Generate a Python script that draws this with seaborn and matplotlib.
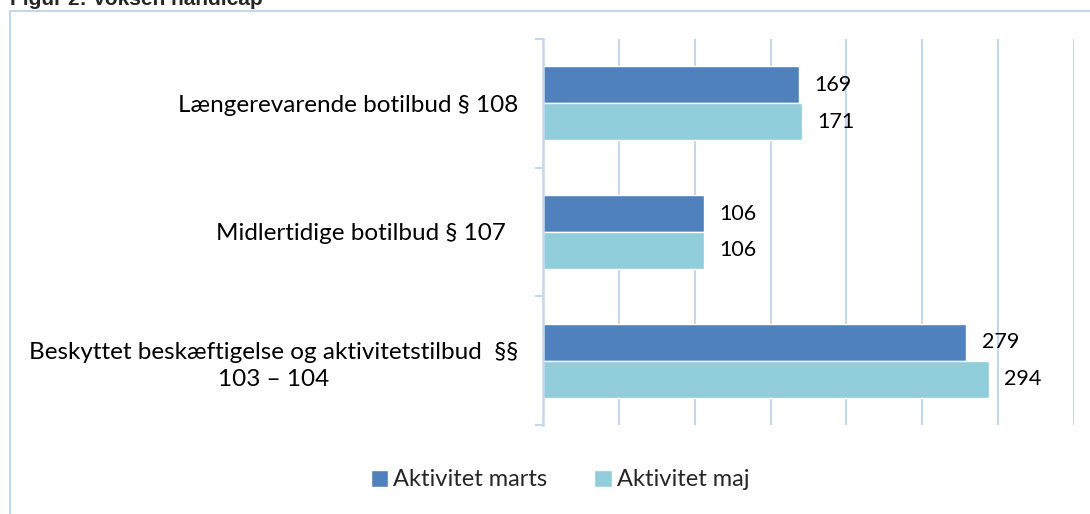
import matplotlib
matplotlib.use('Agg')
import matplotlib.pyplot as plt
import seaborn as sns
import pandas as pd
from matplotlib.patches import Rectangle

categories = ['Længerevarende botilbud § 108',
              'Midlertidige botilbud § 107  ',
              'Beskyttet beskæftigelse og aktivitetstilbud  §§\n103 – 104']
series = ['Aktivitet marts', 'Aktivitet maj']
marts = [169, 106, 279]
maj = [171, 106, 294]
xticks = list(range(0, 351, 50))

df = pd.DataFrame({'kategori': categories * 2,
                   'serie': [series[0]] * 3 + [series[1]] * 3,
                   'antal': marts + maj})

grid = '#c5d7ee'
sns.set_theme(style='white')
plt.rcParams['font.family'] = ['Lato', 'DejaVu Sans']

fig = plt.figure(figsize=(10.9, 5.14), dpi=100)
ax = fig.add_axes([543 / 1090, 89 / 514, 531 / 1090, 386 / 514])
sns.barplot(data=df, y='kategori', x='antal', hue='serie', orient='h',
            palette=['#4f81bd', '#92cddc'], width=0.574, saturation=1, ax=ax)

for c in ax.containers:
    ax.bar_label(c, padding=11, fontsize=15.5, color='black')

ax.set_xlim(0, 350)
ax.set_ylim(2.5, -0.5)
ax.set_xticks(xticks)
ax.set_xticklabels([])
ax.set_xlabel('')
ax.set_ylabel('')
ax.grid(axis='x', color=grid, lw=1.5)
ax.set_axisbelow(True)
for s in ['top', 'right', 'bottom']:
    ax.spines[s].set_visible(False)
ax.spines['left'].set_color(grid)
ax.spines['left'].set_linewidth(1.8)

ax.tick_params(axis='x', length=0)
ax.tick_params(axis='y', which='major', length=0, pad=18, labelsize=17.5, labelcolor='black')
ax.set_yticks([-0.5, 0.5, 1.5, 2.5], minor=True)
ax.tick_params(axis='y', which='minor', left=True, length=6, width=1.5, color=grid)
for lbl in ax.get_yticklabels():
    lbl.set_multialignment('center')
    lbl.set_linespacing(1.4)

handles, labels = ax.get_legend_handles_labels()
ax.get_legend().remove()
fig.legend(handles, labels, loc='center', bbox_to_anchor=(560 / 1090, 1 - 480 / 514),
           ncol=2, frameon=False, fontsize=17, handlelength=0.75, handleheight=0.75,
           handletextpad=0.2, columnspacing=2.0)

fig.add_artist(Rectangle((10 / 1090, -0.1), 1.2, (514 - 11) / 514 + 0.1,
                         transform=fig.transFigure, fill=False, edgecolor=grid, lw=1.5))
fig.text(10 / 1090, 1 - 5 / 514, 'Figur 2: Voksen handicap', fontsize=15,
         fontweight='bold', family='Liberation Sans', va='baseline')

fig.savefig('out.png', dpi=100)
